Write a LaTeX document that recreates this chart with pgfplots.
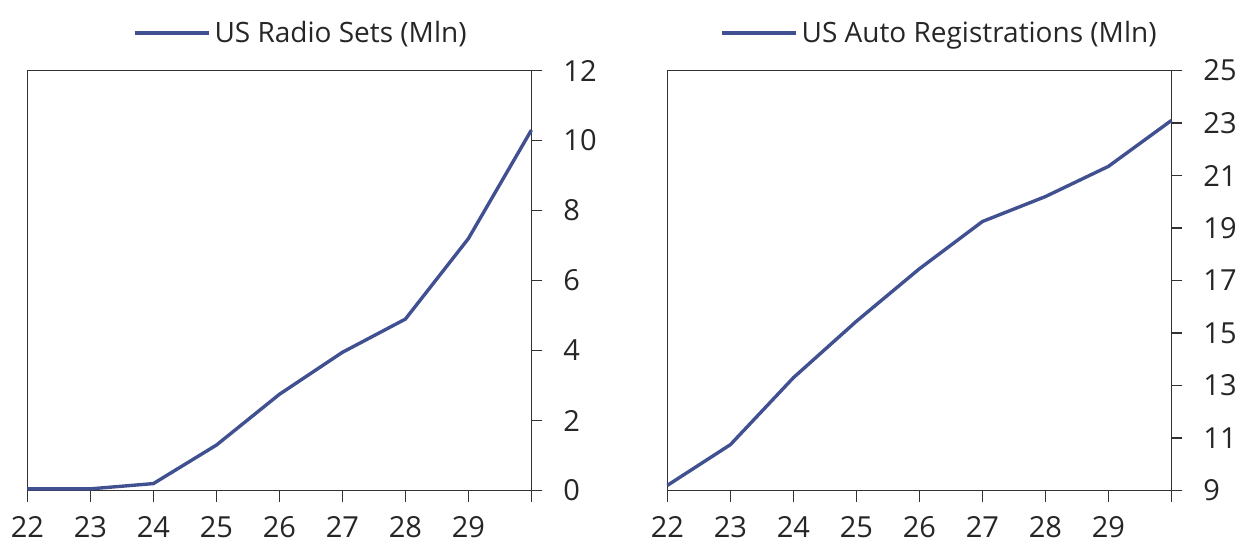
\documentclass[border=0pt]{standalone}
\usepackage{fontspec}
\setmainfont{Open Sans}
\usepackage{pgfplots}
\pgfplotsset{compat=1.18}
\definecolor{lineblue}{RGB}{64,80,145}
\definecolor{axisgray}{RGB}{50,50,50}

\pgfplotstableread{
year radio
22 0.05
23 0.05
24 0.2
25 1.3
26 2.75
27 3.95
28 4.9
29 7.2
30 10.3
}\radiodata

\pgfplotstableread{
year autos
22 9.2
23 10.75
24 13.3
25 15.45
26 17.45
27 19.25
28 20.2
29 21.35
30 23.1
}\autodata

\pgfplotsset{
  panel/.style={
    scale only axis,
    width=252pt, height=210pt,
    xmin=22, xmax=30,
    xtick={22,...,30},
    xticklabels={22,23,24,25,26,27,28,29,{}},
    xtick pos=bottom, ytick pos=right,
    yticklabel pos=right,
    tick align=outside,
    major tick length=5.5pt,
    axis line style={axisgray, line width=0.7pt},
    tick style={axisgray, line width=0.7pt},
    tick label style={font=\fontsize{14.5}{14.5}\selectfont, text=black!85},
    xticklabel style={yshift=-4pt},
    yticklabel style={xshift=7pt},
    /pgf/number format/assume math mode=true,
    legend style={draw=none, fill=none, inner sep=0pt,
      font=\fontsize{14}{14}\selectfont, anchor=south west,
      text=black!85},
    legend image code/.code={\draw[#1, line width=1.7pt] (0pt,0pt) -- (37pt,0pt);},
    legend cell align=left,
    clip=false,
  }
}

\begin{document}
\begin{tikzpicture}
\useasboundingbox (-13.7pt,-26.65pt) rectangle (607.8pt,245.3pt);
\begin{axis}[panel, at={(0pt,0pt)},
    ymin=0, ymax=12, ytick={0,2,...,12},
    legend style={at={(0.209,1.05)}}]
  \addplot[lineblue, line width=1.7pt] table[x=year, y=radio] {\radiodata};
  \addlegendentry{US Radio Sets (Mln)}
\end{axis}
\begin{axis}[panel, at={(320pt,0pt)},
    ymin=9, ymax=25, ytick={9,11,...,25},
    legend style={at={(0.104,1.05)}}]
  \addplot[lineblue, line width=1.7pt] table[x=year, y=autos] {\autodata};
  \addlegendentry{US Auto Registrations (Mln)}
\end{axis}
\end{tikzpicture}
\end{document}
